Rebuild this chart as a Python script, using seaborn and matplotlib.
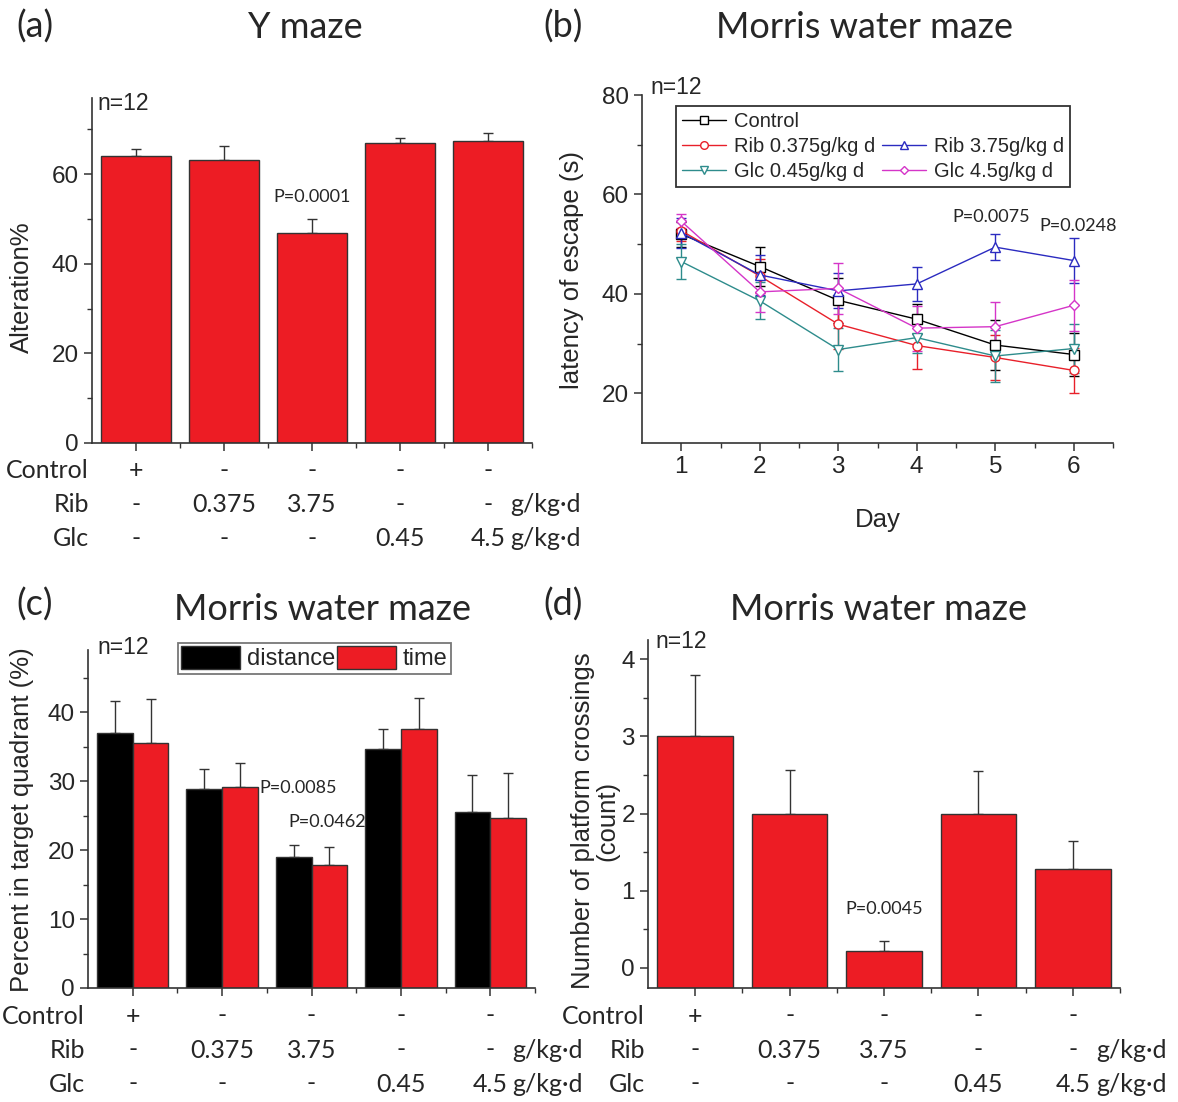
import numpy as np
import pandas as pd
import matplotlib
matplotlib.use("Agg")
import matplotlib.pyplot as plt
import matplotlib.transforms as mtransforms
from matplotlib.lines import Line2D
from matplotlib.patches import Patch
from matplotlib.ticker import MultipleLocator, FixedLocator
import seaborn as sns

# ---------------- data ----------------
groups = ["Control", "Rib 0.375", "Rib 3.75", "Glc 0.45", "Glc 4.5"]
control_row = ["+", "-", "-", "-", "-"]
rib_row = ["-", "0.375", "3.75", "-", "-"]
glc_row = ["-", "-", "-", "0.45", "4.5"]
row_names = ["Control", "Rib", "Glc"]
unit_label = "g/kg\u00b7d"

ymaze_mean = [64.0, 63.1, 46.9, 66.9, 67.5]
ymaze_err = [1.6, 3.2, 3.0, 1.1, 1.6]

days = [1, 2, 3, 4, 5, 6]
series_labels = ["Control", "Rib 0.375g/kg d", "Rib 3.75g/kg d", "Glc 0.45g/kg d", "Glc 4.5g/kg d"]
lat_control = [52.0, 45.5, 38.7, 34.9, 29.7, 27.8]
lat_control_err = [2.5, 4.0, 4.5, 3.0, 5.0, 4.3]
lat_rib_low = [52.7, 43.6, 33.9, 29.6, 27.2, 24.6]
lat_rib_low_err = [2.0, 3.5, 5.0, 4.8, 4.5, 4.5]
lat_rib_high = [52.3, 43.8, 40.6, 42.0, 49.4, 46.7]
lat_rib_high_err = [3.0, 4.0, 3.5, 3.5, 2.6, 4.6]
lat_glc_low = [46.5, 38.6, 28.8, 31.2, 27.5, 29.0]
lat_glc_low_err = [3.5, 3.7, 4.4, 3.0, 5.3, 5.0]
lat_glc_high = [54.6, 40.4, 41.1, 33.1, 33.4, 37.7]
lat_glc_high_err = [1.4, 4.0, 5.2, 4.5, 5.0, 5.1]

quad_distance = [36.9, 28.9, 19.0, 34.7, 25.5]
quad_distance_err = [4.7, 2.9, 1.8, 2.8, 5.4]
quad_time = [35.5, 29.2, 17.8, 37.5, 24.7]
quad_time_err = [6.4, 3.4, 2.6, 4.5, 6.5]

crossings = [3.0, 2.0, 0.22, 2.0, 1.28]
crossings_err = [0.80, 0.56, 0.13, 0.55, 0.37]

# ---------------- style ----------------
sns.set_style("ticks")
plt.rcParams['font.family'] = ['Liberation Sans', 'DejaVu Sans']
RED = "#ED1C24"
EDGE = "#333333"
SER_COLORS = ["#000000", "#E8202A", "#2B2BC0", "#2E8C8C", "#D535C8"]
SER_MARKERS = ["s", "o", "^", "v", "D"]
CAL = ['Lato', 'DejaVu Sans']

W, H = 1178, 1102
fig = plt.figure(figsize=(W / 100, H / 100), dpi=100)


def px_axes(l, r, t, b):
    return fig.add_axes([l / W, 1 - b / H, (r - l) / W, (b - t) / H])


def fpos(x, y):
    return x / W, 1 - y / H


ax_a = px_axes(92, 532, 98, 443)
ax_b = px_axes(642, 1113, 95, 443)
ax_c = px_axes(88, 535, 650, 988)
ax_d = px_axes(648, 1120, 640, 988)

TICK_FS = 17.5
LABEL_FS = 18.5
TABLE_FS = 18


def style_axes(ax):
    for s in ["top", "right"]:
        ax.spines[s].set_visible(False)
    for s in ["left", "bottom"]:
        ax.spines[s].set_linewidth(1.2)
        ax.spines[s].set_color(EDGE)
    ax.tick_params(which="major", direction="out", length=6, width=1.1, color=EDGE, labelsize=TICK_FS)
    ax.tick_params(which="minor", direction="out", length=3.5, width=1.0, color=EDGE)


def table_labels(ax):
    base = mtransforms.blended_transform_factory(ax.transData, ax.transAxes)
    rows = [control_row, rib_row, glc_row]
    offsets = [28, 62, 96]
    for row, name, dy in zip(rows, row_names, offsets):
        tr = base + mtransforms.ScaledTranslation(0, -dy / 100, fig.dpi_scale_trans)
        for xi, txt in enumerate(row):
            ax.text(xi, 0, txt, transform=tr, ha="center", va="center", fontsize=TABLE_FS, family=CAL)
        trl = ax.transAxes + mtransforms.ScaledTranslation(-3 / 100, -dy / 100, fig.dpi_scale_trans)
        ax.text(0, 0, name, transform=trl, ha="right", va="center", fontsize=TABLE_FS, family=CAL)
        if name in ("Rib", "Glc"):
            ax.text(4.25, 0, unit_label, transform=tr, ha="left", va="center", fontsize=TABLE_FS, family=CAL)
    ax.set_xticklabels([])
    ax.set_xlabel("")
    ax.set_xlim(-0.5, 4.5)
    ax.xaxis.set_minor_locator(FixedLocator([0.5, 1.5, 2.5, 3.5, 4.5]))


# ---------------- (a) Y maze ----------------
df_a = pd.DataFrame({"group": groups, "value": ymaze_mean})
sns.barplot(data=df_a, x="group", y="value", color=RED, saturation=1, edgecolor=EDGE,
            linewidth=1, width=0.8, errorbar=None, ax=ax_a)
ax_a.errorbar(range(len(groups)), ymaze_mean, yerr=[np.zeros(len(groups)), ymaze_err],
              fmt="none", ecolor=EDGE, elinewidth=1, capsize=3.5, capthick=1, zorder=0.5)
ax_a.set_ylim(0, 77)
ax_a.yaxis.set_major_locator(MultipleLocator(20))
ax_a.yaxis.set_minor_locator(MultipleLocator(10))
style_axes(ax_a)
table_labels(ax_a)
ax_a.set_ylabel("Alteration%", fontsize=LABEL_FS, va="center")
ax_a.yaxis.set_label_coords(-0.159, 0.452)
ax_a.text(2, 55, "P=0.0001", ha="center", va="center", fontsize=13, family=CAL)

# ---------------- (b) Morris water maze latency ----------------
lat_vals = [lat_control, lat_rib_low, lat_rib_high, lat_glc_low, lat_glc_high]
lat_errs = [lat_control_err, lat_rib_low_err, lat_rib_high_err, lat_glc_low_err, lat_glc_high_err]
handles = []
for lab, vals, errs, c, m in zip(series_labels, lat_vals, lat_errs, SER_COLORS, SER_MARKERS):
    ax_b.errorbar(days, vals, yerr=errs, fmt="none", ecolor=c, elinewidth=1, capsize=3.5,
                  capthick=1, zorder=2)
    sns.lineplot(x=days, y=vals, ax=ax_b, color=c, marker=m, markersize=6.5 if m != "D" else 5.5,
                 markerfacecolor="white", markeredgecolor=c, markeredgewidth=1, linewidth=1,
                 zorder=3)
    handles.append(Line2D([], [], color=c, marker=m, markersize=5.5 if m != "D" else 4.5,
                          markerfacecolor="white", markeredgecolor=c, linewidth=1))
blank = Line2D([], [], color="none")
leg_h = [handles[0], handles[1], handles[3], blank, handles[2], handles[4]]
leg_l = [series_labels[0], series_labels[1], series_labels[3], "", series_labels[2], series_labels[4]]
leg = ax_b.legend(leg_h, leg_l, ncol=2, loc="upper left", bbox_to_anchor=(0.072, 0.968),
                  borderaxespad=0, fontsize=14.5, frameon=True, fancybox=False,
                  handlelength=2.2, handletextpad=0.4, columnspacing=0.3, labelspacing=0.3,
                  borderpad=0.3)
leg.get_frame().set_edgecolor("black")
leg.get_frame().set_linewidth(1.3)
ax_b.set_xlim(0.5, 6.5)
ax_b.set_ylim(10, 80)
ax_b.set_xticks(days)
ax_b.xaxis.set_minor_locator(FixedLocator([1.5, 2.5, 3.5, 4.5, 5.5, 6.5]))
ax_b.yaxis.set_major_locator(FixedLocator([20, 40, 60, 80]))
ax_b.yaxis.set_minor_locator(FixedLocator([30, 50, 70]))
style_axes(ax_b)
ax_b.set_ylabel("latency of escape (s)", fontsize=LABEL_FS, va="center")
ax_b.yaxis.set_label_coords(-0.149, 0.497)
ax_b.set_xlabel("Day", fontsize=LABEL_FS, va="center")
ax_b.xaxis.set_label_coords(0.5, -0.221)
ax_b.text(4.95, 55.5, "P=0.0075", ha="center", va="center", fontsize=13, family=CAL)
ax_b.text(6.05, 53.7, "P=0.0248", ha="center", va="center", fontsize=13, family=CAL)

# ---------------- (c) target quadrant ----------------
df_c = pd.DataFrame({
    "group": groups * 2,
    "measure": ["distance"] * len(groups) + ["time"] * len(groups),
    "value": quad_distance + quad_time,
})
sns.barplot(data=df_c, x="group", y="value", hue="measure",
            palette={"distance": "#000000", "time": RED}, saturation=1, edgecolor=EDGE,
            linewidth=1, width=0.8, errorbar=None, dodge=True, ax=ax_c)
for cont, errs in zip(ax_c.containers, [quad_distance_err, quad_time_err]):
    xs = [p.get_x() + p.get_width() / 2 for p in cont]
    hs = [p.get_height() for p in cont]
    ax_c.errorbar(xs, hs, yerr=[np.zeros(len(xs)), errs], fmt="none", ecolor=EDGE,
                  elinewidth=1, capsize=3.5, capthick=1, zorder=0.5)
ax_c.set_ylim(0, 49)
ax_c.yaxis.set_major_locator(MultipleLocator(10))
ax_c.yaxis.set_minor_locator(FixedLocator([5, 15, 25, 35, 45]))
style_axes(ax_c)
table_labels(ax_c)
leg_c = ax_c.legend([Patch(facecolor="#000000", edgecolor=EDGE), Patch(facecolor=RED, edgecolor=EDGE)],
                    ["distance", "time"], ncol=2, loc="upper left", bbox_to_anchor=(0.201, 1.022),
                    borderaxespad=0, fontsize=17, frameon=True, fancybox=False,
                    handlelength=2.5, handleheight=1.1, handletextpad=0.3, columnspacing=0.05,
                    borderpad=0.15)
leg_c.get_frame().set_edgecolor("#555555")
leg_c.get_frame().set_linewidth(1.3)
ax_c.set_ylabel("Percent in target quadrant (%)", fontsize=LABEL_FS, va="center")
ax_c.yaxis.set_label_coords(-0.148, 0.497)
ax_c.text(1.42, 29.0, "P=0.0085", ha="left", va="center", fontsize=13, family=CAL)
ax_c.text(1.74, 24.1, "P=0.0462", ha="left", va="center", fontsize=13, family=CAL)

# ---------------- (d) platform crossings ----------------
df_d = pd.DataFrame({"group": groups, "value": crossings})
sns.barplot(data=df_d, x="group", y="value", color=RED, saturation=1, edgecolor=EDGE,
            linewidth=1, width=0.8, errorbar=None, ax=ax_d)
ybot = -0.26
for p in ax_d.containers[0]:
    h = p.get_height()
    p.set_y(ybot)
    p.set_height(h - ybot)
ax_d.errorbar(range(len(groups)), crossings, yerr=[np.zeros(len(groups)), crossings_err],
              fmt="none", ecolor=EDGE, elinewidth=1, capsize=3.5, capthick=1, zorder=0.5)
ax_d.set_ylim(ybot, 4.25)
ax_d.yaxis.set_major_locator(MultipleLocator(1))
ax_d.yaxis.set_minor_locator(FixedLocator([0.5, 1.5, 2.5, 3.5]))
style_axes(ax_d)
table_labels(ax_d)
ax_d.set_ylabel("Number of platform crossings\n(count)", fontsize=LABEL_FS, va="center",
                linespacing=1.0)
ax_d.yaxis.set_label_coords(-0.112, 0.48)
ax_d.text(2, 0.77, "P=0.0045", ha="center", va="center", fontsize=13, family=CAL)

# ---------------- titles, panel letters, n ----------------
for (x, y), s in zip([(35, 27), (563, 27), (35, 605), (563, 605)], ["(a)", "(b)", "(c)", "(d)"]):
    fig.text(*fpos(x, y), s, ha="center", va="center", fontsize=26, family=CAL)
for (x, y), s in zip([(305, 27), (865, 27), (323, 610), (878, 610)],
                     ["Y maze", "Morris water maze", "Morris water maze", "Morris water maze"]):
    fig.text(*fpos(x, y), s, ha="center", va="center", fontsize=26, family=CAL)
for (x, y) in [(97, 103), (650, 88), (97, 648), (655, 642)]:
    fig.text(*fpos(x, y), "n=12", ha="left", va="center", fontsize=16.5)

fig.savefig("out.png", dpi=100)
